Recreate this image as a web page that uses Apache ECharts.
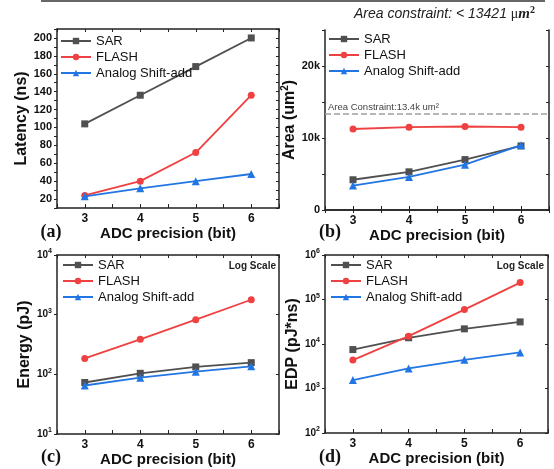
<!DOCTYPE html>
<html>
<head>
<meta charset="utf-8">
<script src="https://cdn.jsdelivr.net/npm/echarts@6/dist/echarts.min.js"></script>
<style>
html,body{margin:0;padding:0;background:#fff;}
#chart{width:554px;height:469px;}
</style>
</head>
<body>
<div id="chart"></div>
<script>
// ---- data ----
const adcBits = [3, 4, 5, 6];
const seriesNames = ['SAR', 'FLASH', 'Analog Shift-add'];

const latencySAR = [104, 136, 168, 200];
const latencyFLASH = [24, 40, 72, 136];
const latencyAnalog = [23, 32, 40, 48];

const areaSAR = [4200, 5300, 7000, 8900];
const areaFLASH = [11250, 11500, 11600, 11500];
const areaAnalog = [3400, 4600, 6300, 9000];
const areaLimit = 13421;

const energySAR = [73, 104, 133, 157];
const energyFLASH = [185, 386, 825, 1780];
const energyAnalog = [65, 88, 111, 136];

const edpSAR = [7500, 13800, 21900, 31400];
const edpFLASH = [4350, 15000, 59400, 240000];
const edpAnalog = [1550, 2820, 4420, 6450];

// ---- styles ----
const FONT = '"Liberation Sans", Arial, sans-serif';
const colors = ['#505050', '#ef4141', '#2276e3'];
const symbols = ['rect', 'circle', 'triangle'];
const symSizes = [7, 7, 8];
const AX = '#222';

const grids = [
  {left: 57, top: 29, width: 222, height: 179},
  {left: 325, top: 30, width: 224, height: 180},
  {left: 57, top: 255, width: 222, height: 179},
  {left: 325, top: 255, width: 223, height: 178}
];

function pairs(arr) { return adcBits.map((x, i) => [x, arr[i]]); }

const xAxes = [], yAxes = [], series = [], legends = [];

function logLabel(v) {
  return '{b|10}{s|' + Math.round(Math.log10(v)) + '}';
}

function addPanel(gi, yCfg, yName, yNameGap, dataSets, legendPos, extraFirst) {
  xAxes.push({
    gridIndex: gi, type: 'value', min: 2.5, max: 6.5, interval: 0.5, position: 'bottom',
    axisLine: {show: true, lineStyle: {color: AX, width: 1.5}},
    axisTick: {show: true, inside: true, length: 4, lineStyle: {color: AX}},
    axisLabel: {
      margin: 5, fontFamily: FONT, fontWeight: 'bold', fontSize: 12, color: '#111',
      formatter: v => (Math.abs(v - Math.round(v)) < 1e-6 ? String(Math.round(v)) : '')
    },
    splitLine: {show: false},
    name: 'ADC precision (bit)', nameLocation: 'middle', nameGap: 15,
    nameTextStyle: {fontFamily: FONT, fontWeight: 'bold', fontSize: 15, color: '#111'}
  });
  xAxes.push({
    gridIndex: gi, type: 'value', min: 2.5, max: 6.5, interval: 0.5, position: 'top',
    axisLine: {show: true, lineStyle: {color: AX, width: 1.5}},
    axisTick: {show: true, inside: true, length: 3, lineStyle: {color: AX}},
    axisLabel: {show: false}, splitLine: {show: false}
  });
  const baseY = Object.assign({
    gridIndex: gi,
    axisLine: {show: true, lineStyle: {color: AX, width: 1.5}},
    splitLine: {show: false}
  }, yCfg);
  yAxes.push(Object.assign({}, baseY, {
    position: 'left',
    axisTick: {show: true, inside: false, length: 3, lineStyle: {color: AX}},
    axisLabel: Object.assign({margin: 5, fontFamily: FONT, fontWeight: 'bold', fontSize: 11, color: '#111'}, yCfg.axisLabel || {}),
    name: yName, nameLocation: 'middle', nameGap: yNameGap,
    nameTextStyle: {fontFamily: FONT, fontWeight: 'bold', fontSize: 16, color: '#111',
      rich: {s: {fontFamily: FONT, fontWeight: 'bold', fontSize: 10, padding: [0, 0, 8, 0]}}}
  }));
  yAxes.push(Object.assign({}, baseY, {
    position: 'right',
    axisTick: {show: true, inside: true, length: 3, lineStyle: {color: AX}},
    axisLabel: {show: false}, name: ''
  }));
  const xi = gi * 2, yi = gi * 2;
  dataSets.forEach((arr, k) => {
    const s = {
      type: 'line', name: seriesNames[k], xAxisIndex: xi, yAxisIndex: yi,
      data: pairs(arr), symbol: symbols[k], symbolSize: symSizes[k],
      lineStyle: {color: colors[k], width: 1.8},
      itemStyle: {color: colors[k]}, z: 3 + k, animation: false
    };
    if (k === 0 && extraFirst) Object.assign(s, extraFirst);
    series.push(s);
  });
  legends.push({
    orient: 'vertical', left: legendPos[0], top: legendPos[1], padding: 0,
    itemWidth: 30, itemHeight: 8, itemGap: 2,
    textStyle: {fontFamily: FONT, fontSize: 13, color: '#111', lineHeight: 14},
    data: seriesNames, selectedMode: false
  });
}

const logRich = {
  b: {fontFamily: FONT, fontWeight: 'bold', fontSize: 10, color: '#111'},
  s: {fontFamily: FONT, fontWeight: 'bold', fontSize: 7, color: '#111', padding: [0, 0, 7, 0]}
};

addPanel(0,
  {type: 'value', min: 10, max: 210, interval: 10,
   axisLabel: {formatter: v => (v % 20 === 0 && v >= 20 && v <= 200 ? String(v) : '')}},
  'Latency (ns)', 23, [latencySAR, latencyFLASH, latencyAnalog], [60, 34]);

addPanel(1,
  {type: 'value', min: 0, max: 25000, interval: 5000,
   axisLabel: {formatter: v => (v === 0 ? '0' : (v % 10000 === 0 ? (v / 1000) + 'k' : ''))}},
  'Area (um{s|2})', 23, [areaSAR, areaFLASH, areaAnalog], [328, 32],
  {markLine: {
    symbol: 'none', silent: true, animation: false,
    lineStyle: {type: 'dashed', color: '#a0a0a0', width: 1.5},
    label: {position: 'insideStartTop', distance: [3, 1], formatter: 'Area Constraint:13.4k um\u00B2',
            fontFamily: FONT, fontSize: 9.5, color: '#444'},
    data: [{yAxis: areaLimit}]
  }});

addPanel(2,
  {type: 'log', logBase: 10, min: 10, max: 10000,
   axisLabel: {formatter: logLabel, rich: logRich}},
  'Energy (pJ)', 19, [energySAR, energyFLASH, energyAnalog], [62, 258]);

addPanel(3,
  {type: 'log', logBase: 10, min: 100, max: 1000000,
   axisLabel: {formatter: logLabel, rich: logRich}},
  'EDP (pJ*ns)', 17, [edpSAR, edpFLASH, edpAnalog], [330, 258]);

const panelLabel = (txt, x, y) => ({
  type: 'text', x: x, y: y,
  style: {text: txt, font: 'bold 18px "Liberation Serif", "Times New Roman", serif', fill: '#111',
          textAlign: 'center', textVerticalAlign: 'middle'}
});

const option = {
  animation: false,
  backgroundColor: '#fff',
  grid: grids,
  xAxis: xAxes,
  yAxis: yAxes,
  legend: legends,
  series: series,
  graphic: [
    {type: 'line', shape: {x1: 41, y1: 1, x2: 545, y2: 1}, style: {stroke: '#666', lineWidth: 2}},
    {type: 'text', x: 354, y: 14, style: {
      text: '{i|Area constraint: < 13421 }{u|\u03BC}{m|m}{s|2}',
      textVerticalAlign: 'middle',
      rich: {
        i: {font: 'italic 14px "Liberation Sans", Arial, sans-serif', fill: '#222'},
        u: {font: '14px "Liberation Serif", serif', fill: '#222'},
        m: {font: 'italic bold 15px "Liberation Serif", serif', fill: '#222'},
        s: {font: 'bold 10px "Liberation Serif", serif', fill: '#222', padding: [0, 0, 8, 0]}
      }
    }},
    panelLabel('(a)', 51, 232),
    panelLabel('(b)', 330, 232),
    panelLabel('(c)', 51, 457),
    panelLabel('(d)', 330, 457),
    {type: 'text', x: 276, y: 266, style: {text: 'Log Scale', font: 'bold 10px "Liberation Sans", Arial, sans-serif',
      fill: '#222', textAlign: 'right', textVerticalAlign: 'middle'}},
    {type: 'text', x: 544, y: 266, style: {text: 'Log Scale', font: 'bold 10px "Liberation Sans", Arial, sans-serif',
      fill: '#222', textAlign: 'right', textVerticalAlign: 'middle'}}
  ]
};

const chart = echarts.init(document.getElementById('chart'), null, {renderer: 'canvas'});
chart.setOption(option);
</script>
</body>
</html>
